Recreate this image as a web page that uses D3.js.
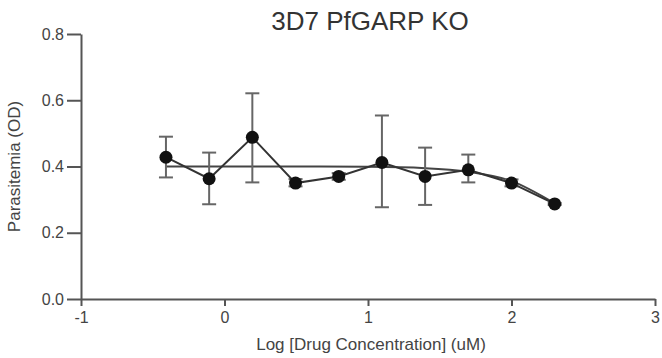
<!DOCTYPE html>
<html>
<head>
<meta charset="utf-8">
<script src="https://cdn.jsdelivr.net/npm/d3@7"></script>
<style>
  body { margin: 0; background: #fff; }
  svg { display: block; font-family: "Liberation Sans", Arial, sans-serif; }
  .axis path, .axis line { stroke: #555; stroke-width: 2; }
  .axis text { fill: #444; font-size: 16px; }
</style>
</head>
<body>
<svg id="chart" width="662" height="358"></svg>
<script>
// log10 of drug concentration (uM), 2-fold dilutions from 200 uM
const logConc = [-0.408, -0.107, 0.194, 0.495, 0.796, 1.097, 1.398, 1.699, 2.0, 2.301]
const meanOD  = [0.428, 0.363, 0.488, 0.350, 0.370, 0.412, 0.370, 0.390, 0.350, 0.287]
const errHigh = [0.490, 0.442, 0.621, 0.362, 0.380, 0.554, 0.457, 0.436, 0.361, 0.290]
const errLow  = [0.367, 0.286, 0.352, 0.340, 0.360, 0.277, 0.284, 0.352, 0.340, 0.284]

// fitted curve
const fitX = [-0.408, 0.5, 1.0, 1.4, 1.7, 2.0, 2.301]
const fitY = [0.400, 0.400, 0.399, 0.395, 0.384, 0.356, 0.289]

const xTicks = [-1, 0, 1, 2, 3]
const yTicks = [0.0, 0.2, 0.4, 0.6, 0.8]

const svg = d3.select('#chart')
const margin = {left: 81, right: 7, top: 34, bottom: 59}
const width = 662, height = 358

const x = d3.scaleLinear()
  .domain([-1, 3])
  .range([margin.left, width - margin.right])

const y = d3.scaleLinear()
  .domain([0, 0.8])
  .range([height - margin.bottom, margin.top])

svg.append('g')
  .attr('class', 'axis')
  .attr('transform', `translate(0,${y(0)})`)
  .call(d3.axisBottom(x).tickValues(xTicks).tickFormat(d => String(d)).tickSize(7).tickSizeOuter(0).tickPadding(6))

svg.append('g')
  .attr('class', 'axis')
  .attr('transform', `translate(${x(-1)},0)`)
  .call(d3.axisLeft(y).tickValues(yTicks).tickFormat(d3.format('.1f')).tickSize(14).tickSizeOuter(0).tickPadding(3))

// title and axis labels
svg.append('text')
  .attr('x', 370)
  .attr('y', 30)
  .attr('text-anchor', 'middle')
  .attr('fill', '#333')
  .style('font-size', '26px')
  .text('3D7 PfGARP KO')

svg.append('text')
  .attr('x', 371)
  .attr('y', 350)
  .attr('text-anchor', 'middle')
  .attr('fill', '#444')
  .style('font-size', '17px')
  .text('Log [Drug Concentration] (uM)')

svg.append('text')
  .attr('transform', `translate(20,${y(0.4)}) rotate(-90)`)
  .attr('text-anchor', 'middle')
  .attr('fill', '#444')
  .style('font-size', '17px')
  .text('Parasitemia (OD)')

// fit curve
const fitPts = fitX.map((d, i) => [d, fitY[i]])
svg.append('path')
  .datum(fitPts)
  .attr('fill', 'none')
  .attr('stroke', '#444')
  .attr('stroke-width', 2)
  .attr('d', d3.line().x(d => x(d[0])).y(d => y(d[1])).curve(d3.curveMonotoneX))

// error bars
const pts = logConc.map((d, i) => ({x: d, y: meanOD[i], hi: errHigh[i], lo: errLow[i]}))
const eb = svg.append('g')
  .attr('stroke', '#666')
  .attr('stroke-width', 2)

eb.selectAll('line.v')
  .data(pts)
  .enter()
  .append('line')
  .attr('x1', d => x(d.x))
  .attr('x2', d => x(d.x))
  .attr('y1', d => y(d.hi))
  .attr('y2', d => y(d.lo))

eb.selectAll('line.top')
  .data(pts)
  .enter()
  .append('line')
  .attr('x1', d => x(d.x) - 7)
  .attr('x2', d => x(d.x) + 7)
  .attr('y1', d => y(d.hi))
  .attr('y2', d => y(d.hi))

eb.selectAll('line.bot')
  .data(pts)
  .enter()
  .append('line')
  .attr('x1', d => x(d.x) - 7)
  .attr('x2', d => x(d.x) + 7)
  .attr('y1', d => y(d.lo))
  .attr('y2', d => y(d.lo))

// data line
svg.append('path')
  .datum(pts)
  .attr('fill', 'none')
  .attr('stroke', '#333')
  .attr('stroke-width', 2)
  .attr('d', d3.line().x(d => x(d.x)).y(d => y(d.y)))

svg.append('g')
  .selectAll('circle')
  .data(pts)
  .enter()
  .append('circle')
  .attr('cx', d => x(d.x))
  .attr('cy', d => y(d.y))
  .attr('r', 6.5)
  .attr('fill', '#111')
</script>
</body>
</html>
